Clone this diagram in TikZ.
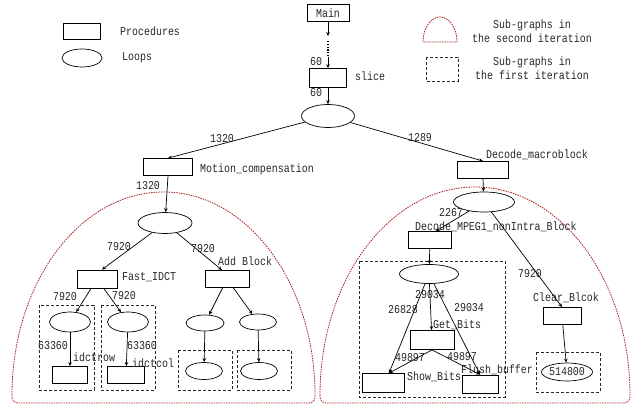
\documentclass[tikz,border=0pt]{standalone}
\usepackage{fontspec}
\setmonofont[FakeStretch=0.83]{Liberation Mono}
\usetikzlibrary{arrows.meta,shapes.geometric}
\definecolor{domered}{RGB}{170,30,30}
\tikzset{
  proc/.style={draw,rectangle,inner sep=0pt,minimum width=40pt,minimum height=17pt,line width=0.8pt},
  loop/.style={draw,ellipse,inner sep=0pt,minimum width=40pt,minimum height=18pt,line width=0.7pt},
  lbl/.style={inner sep=0pt,text=black!85,font=\ttfamily\fontsize{12}{14}\selectfont},
  firstit/.style={draw=black!85,dash pattern=on 3pt off 2pt,line width=0.8pt},
  secondit/.style={draw=domered,dash pattern=on 1.5pt off 1pt,line width=0.8pt},
  call/.style={-{Stealth[length=4pt,width=3.5pt]},line width=0.7pt}
}
\begin{document}
\begin{tikzpicture}[x=1pt,y=-1pt]
\useasboundingbox (0,0) rectangle (634,406);
% legend
\node(legproc) at (81.5,31)[proc,minimum width=37pt,minimum height=16pt]{};
\node(legloop) at (82,58)[loop,minimum width=40pt,minimum height=18pt]{};
\node(legproct) at (120,31)[lbl,anchor=west]{Procedures};
\node(legloopt) at (122,58)[lbl,anchor=west]{Loops};
\draw[secondit] (423,42) arc[start angle=180,end angle=0,x radius=17pt,y radius=25pt] -- cycle;
\draw[firstit] (426,57) rectangle (458,81);
\node(legsecond) at (532,31)[lbl,align=center]{Sub-graphs in\\the second iteration};
\node(legfirst) at (532,68)[lbl,align=center]{Sub-graphs in\\the first iteration};

% sub-graph outlines
\draw[secondit] (12,395) arc[start angle=180,end angle=0,x radius=151.5pt,y radius=203pt]
  -- (315,397) to[out=-90,in=0] (309,403) -- (18,403) to[out=180,in=-90] (12,397) -- cycle;
\draw[secondit] (320,395) arc[start angle=180,end angle=0,x radius=155pt,y radius=208pt]
  -- (630,397) to[out=-90,in=0] (624,403) -- (326,403) to[out=180,in=-90] (320,397) -- cycle;
\draw[firstit] (39,305) rectangle (94,390);
\draw[firstit] (101,305) rectangle (155,390);
\draw[firstit] (178,350) rectangle (232,390);
\draw[firstit] (237,350) rectangle (291,390);
\draw[firstit] (359,261) rectangle (505,397);
\draw[firstit] (536,352) rectangle (600,392);

% procedures and loops
\node(main) at (328,13)[proc,minimum width=42pt]{\textcolor{black!85}{\ttfamily\fontsize{12}{14}\selectfont Main}};
\node(slice) at (328,78)[proc,minimum width=37pt,minimum height=19pt]{};
\node(sloop) at (328,116)[loop,minimum width=53pt,minimum height=23pt]{};
\node(mc) at (168,167)[proc,minimum width=49pt]{};
\node(dm) at (483,170)[proc,minimum width=51pt]{};
\node(mcloop) at (165,223)[loop,minimum width=54pt,minimum height=21pt]{};
\node(fidct) at (97,279)[proc,minimum width=40pt,minimum height=18pt]{};
\node(addb) at (227,279)[proc,minimum width=44pt]{};
\node(rowloop) at (70,322)[loop,minimum width=41pt,minimum height=20pt]{};
\node(colloop) at (128,322)[loop,minimum width=41pt,minimum height=20pt]{};
\node(idctrow) at (70,375)[proc,minimum width=35pt]{};
\node(idctcol) at (126,375)[proc,minimum width=37pt]{};
\node(addloopa) at (205,323)[loop,minimum width=38pt,minimum height=16pt]{};
\node(addloopb) at (258,322)[loop,minimum width=37pt,minimum height=16pt]{};
\node(addinna) at (204,371)[loop,minimum width=37pt,minimum height=17pt]{};
\node(addinnb) at (259,371)[loop,minimum width=37pt,minimum height=17pt]{};
\node(dmloop) at (484,202)[loop,minimum width=61pt,minimum height=20pt]{};
\node(dmpeg) at (430,240)[proc,minimum width=43pt]{};
\node(bitloop) at (429,274)[loop,minimum width=59pt,minimum height=19pt]{};
\node(getb) at (432,340)[proc,minimum width=44pt,minimum height=19pt]{};
\node(showb) at (383,383)[proc,minimum width=42pt,minimum height=19pt]{};
\node(flush) at (480,384)[proc,minimum width=36pt,minimum height=18pt]{};
\node(clear) at (562,316)[proc,minimum width=38pt]{};
\node(clrloop) at (567,372)[loop,minimum width=51pt,minimum height=18pt]{\textcolor{black!85}{\ttfamily\fontsize{12}{14}\selectfont 514800}};

% names and counts
\node(slicet) at (355,76)[lbl,anchor=west]{slice};
\node(mct) at (200,169)[lbl,anchor=west]{Motion\_compensation};
\node(dmt) at (486,155)[lbl,anchor=west]{Decode\_macroblock};
\node(fidctt) at (122,277)[lbl,anchor=west]{Fast\_IDCT};
\node(addbt) at (218,261)[lbl,anchor=west]{Add Block};
\node(idctrowt) at (73,357)[lbl,anchor=west]{idctrow};
\node(idctcolt) at (132,363)[lbl,anchor=west]{idctcol};
\node(dmpegt) at (415,227)[lbl,anchor=west]{Decode\_MPEG1\_nonIntra\_Block};
\node(cleart) at (533,298)[lbl,anchor=west]{Clear\_Blcok};
\node(getbt) at (433,325)[lbl,anchor=west]{Get\_Bits};
\node(showbt) at (407,377)[lbl,anchor=west]{Show\_Bits};
\node(flusht) at (461,370)[lbl,anchor=west]{Flush\_buffer};
\node(nmaina) at (316,62)[lbl]{60};
\node(nmainb) at (316,93)[lbl]{60};
\node(nmc) at (222,139)[lbl]{1320};
\node(ndm) at (420,138)[lbl]{1289};
\node(nmcl) at (148,186)[lbl]{1320};
\node(nfidct) at (119,247)[lbl]{7920};
\node(naddb) at (203,249)[lbl]{7920};
\node(nrow) at (65,297)[lbl]{7920};
\node(ncol) at (124,296)[lbl]{7920};
\node(nrowin) at (53,346)[lbl]{63360};
\node(ncolin) at (142,346)[lbl]{63360};
\node(ndmpeg) at (451,213)[lbl]{2267};
\node(nclear) at (530,274)[lbl]{7920};
\node(ngetb) at (430,295)[lbl]{29034};
\node(nshow) at (403,310)[lbl]{26828};
\node(nflush) at (469,308)[lbl]{29034};
\node(ngshow) at (410,358)[lbl]{49897};
\node(ngflush) at (462,357)[lbl]{49897};

% calls
\coordinate(mdots) at (328,36);
\coordinate(mdotsa) at (328,41);
\coordinate(mdotsb) at (328,57);
\draw[line width=1.2pt,dash pattern=on 1.2pt off 1.6pt] (mdotsa) -- (mdotsb);
\path [call]
  (main.south) edge (mdots)
  (mdotsb)     edge (slice.north)
  (slice)      edge (sloop)
  (sloop)      edge (mc.north)
  (sloop)      edge (dm.north)
  (mc.south)   edge (mcloop)
  (dm.south)   edge (dmloop)
  (mcloop)     edge ([xshift=5pt]fidct.north)
  (mcloop)     edge ([xshift=-5pt]addb.north)
  (fidct)      edge (rowloop)
  (fidct)      edge (colloop)
  (addb)       edge (addloopa)
  (addb)       edge (addloopb)
  (rowloop)    edge (idctrow)
  (colloop)    edge (idctcol)
  (addloopa)   edge (addinna)
  (addloopb)   edge (addinnb)
  (dmloop)     edge ([xshift=6pt]dmpeg.north)
  (dmloop)     edge (clear.north)
  (dmpeg)      edge (bitloop)
  (bitloop)    edge (getb)
  (bitloop)    edge ([xshift=6pt]showb.north)
  (bitloop)    edge (flush.north)
  (getb.south) edge ([xshift=6pt]showb.north)
  (getb.south) edge (flush.north)
  (clear)      edge (clrloop);
\end{tikzpicture}
\end{document}
